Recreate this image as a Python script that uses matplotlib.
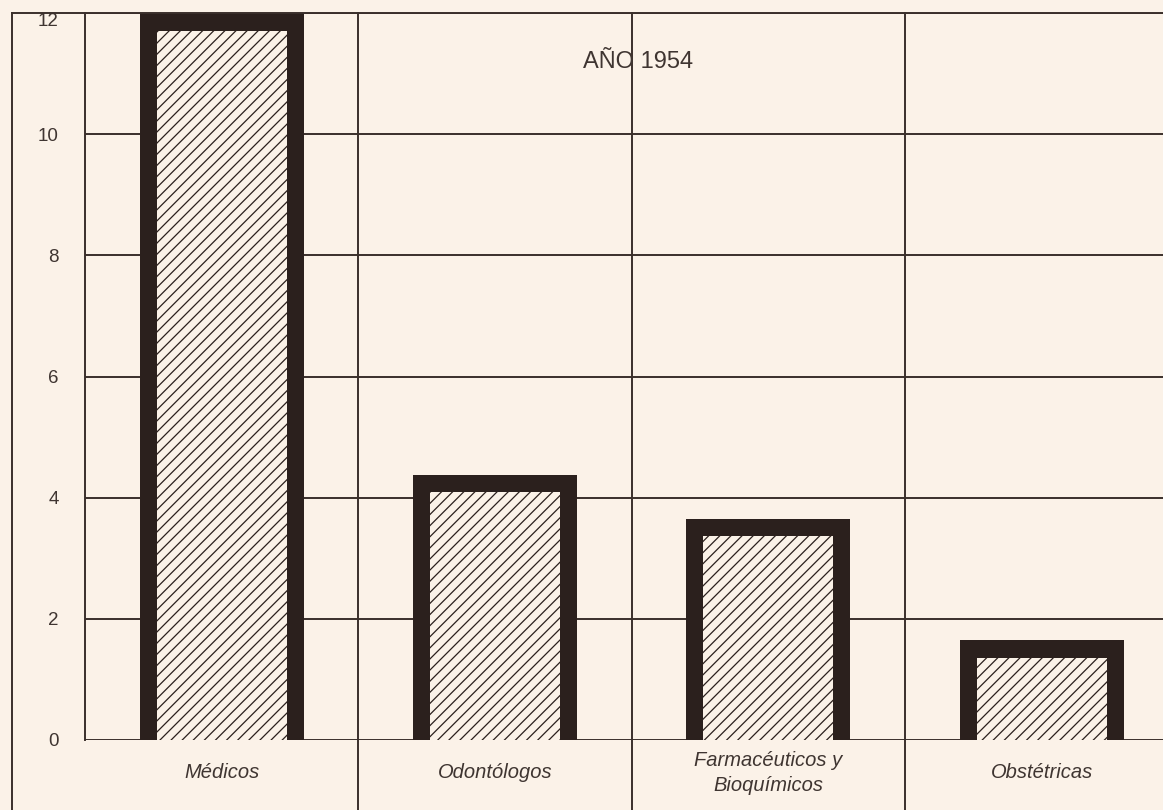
import matplotlib.pyplot as plt
from matplotlib.lines import Line2D


# ---------------------------------------------------------
# Data
# ---------------------------------------------------------

categories = ["Médicos", "Odontólogos", "Farmacéuticos y\nBioquímicos", "Obstétricas"]
values = [12.0, 4.38, 3.65, 1.65]
y_ticks = [0, 2, 4, 6, 8, 10, 12]
title = "AÑO 1954"


# ---------------------------------------------------------
# Style
# ---------------------------------------------------------

BG = "#fbf2e8"
INK = "#2b201d"
LINE = "#3a2f2b"
TEXT = "#3f3531"

plt.rcParams["font.family"] = ["Liberation Sans", "DejaVu Sans"]
plt.rcParams["hatch.linewidth"] = 0.9

W, H = 1163, 810
fig = plt.figure(figsize=(W / 100, H / 100), dpi=100, facecolor=BG)

# axes: left grid line at x=85, top at y=13, zero line at y=740
ax_left, ax_top, ax_bottom = 85, 13, 740
ax = fig.add_axes([ax_left / W, (H - ax_bottom) / H, (W - ax_left) / W, (ax_bottom - ax_top) / H])
ax.set_facecolor(BG)

cat_px = 273.3
ax.set_xlim(-0.5, -0.5 + (W - ax_left) / cat_px)
ax.set_ylim(0, 12)

# grid
for y in y_ticks:
    ax.axhline(y, color=LINE, lw=1.4, zorder=1)
for x in [0.5, 1.5, 2.5]:
    ax.axvline(x, ymin=-(H - ax_bottom) / (ax_bottom - ax_top), ymax=1,
               color=LINE, lw=1.4, zorder=1, clip_on=False)

# bars: thick dark frame with hatched inside
bar_w = 0.6
border_x = 0.062
border_y = 0.29
xs = range(len(categories))
ax.bar(xs, values, width=bar_w, color=INK, linewidth=0, zorder=2)
inner = [v - border_y for v in values]
ax.bar(xs, inner, width=bar_w - 2 * border_x, color=BG, edgecolor=INK,
       linewidth=0, hatch="///", zorder=3)

# axes frame
for side in ["top", "right", "bottom"]:
    ax.spines[side].set_visible(False)
ax.spines["left"].set_color(LINE)
ax.spines["left"].set_linewidth(1.4)

# y tick labels
ax.set_yticks(y_ticks)
ax.set_yticklabels([str(t) for t in y_ticks], fontsize=13.5, color=TEXT)
ax.tick_params(axis="y", length=0, pad=19)
ax.get_yticklabels()[-1].set_va("top")
ax.set_xticks([])

# category labels in the row below the chart
for i, name in enumerate(categories):
    ax.text(i, -33 / (ax_bottom - ax_top), name, transform=ax.get_xaxis_transform(),
            ha="center", va="center", fontsize=14.5, style="italic", color=TEXT,
            linespacing=1.4)

# title
fig.text(638 / W, 1 - 62 / H, title, ha="center", va="center", fontsize=17, color=TEXT)

# outer frame lines
fig.add_artist(Line2D([12 / W, 12 / W], [0, 1 - 13 / H], color=LINE, lw=1.4))
fig.add_artist(Line2D([12 / W, 1], [1 - 13 / H, 1 - 13 / H], color=LINE, lw=1.4))

fig.savefig("out.png", dpi=100, facecolor=BG)
